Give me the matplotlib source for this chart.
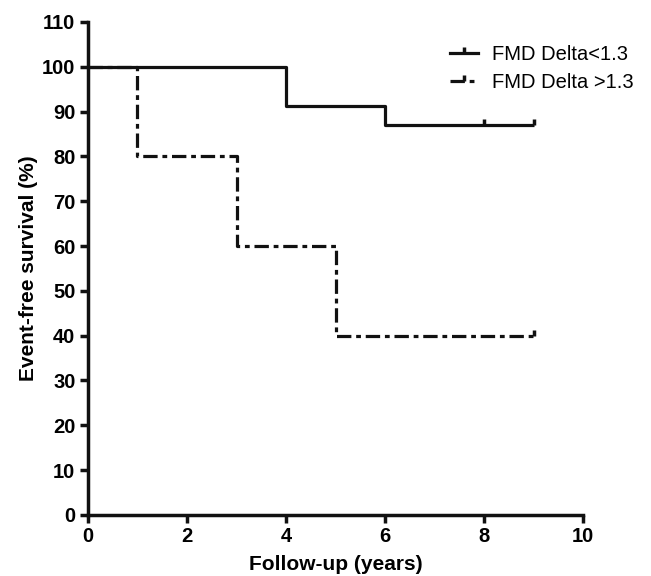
import matplotlib
matplotlib.use("Agg")
import matplotlib.pyplot as plt
from matplotlib.path import Path

plt.rcParams['font.family'] = ['Liberation Sans', 'DejaVu Sans']

# Kaplan-Meier step data
low_times = [0, 4, 6, 9]
low_surv = [100, 91.3, 87, 87]
low_censor_t = [8, 9]
low_censor_s = [87, 87]

high_times = [0, 1, 3, 5, 9]
high_surv = [100, 80, 60, 40, 40]
high_censor_t = [9]
high_censor_s = [40]

labels = ["FMD Delta<1.3", "FMD Delta >1.3"]
xticks = [0, 2, 4, 6, 8, 10]
yticks = list(range(0, 111, 10))

up_tick = Path([(0, 0), (0, 1)], [Path.MOVETO, Path.LINETO])

fig = plt.figure(figsize=(6.51, 5.76), dpi=100)
ax = fig.add_axes([0.135, 0.106, 0.761, 0.856])

dash = (0, (4.5, 1.5, 1.5, 1.5))
lw = 2.3
ink = '#111111'

ax.step(low_times, low_surv, where='post', color=ink, lw=lw, solid_capstyle='butt')
ax.plot(low_censor_t, low_censor_s, ls='none', marker=up_tick, markersize=9,
        markeredgewidth=2.5, color=ink)
ax.step(high_times, high_surv, where='post', color=ink, lw=lw, ls=dash)
ax.plot(high_censor_t, high_censor_s, ls='none', marker=up_tick, markersize=9,
        markeredgewidth=2.5, color=ink)

# legend handles
h1, = ax.plot([], [], color=ink, lw=lw, marker=up_tick, markersize=9, markeredgewidth=2.5)
h2, = ax.plot([], [], color=ink, lw=lw, ls=dash, marker=up_tick, markersize=9, markeredgewidth=2.5)
fig.legend([h1, h2], labels, loc='upper left', bbox_to_anchor=(450 / 651, 1 - 45 / 576),
           frameon=False, fontsize=14.5, handlelength=1.4, handletextpad=0.7,
           labelspacing=0.45, borderpad=0, borderaxespad=0, numpoints=1)

ax.set_xlim(0, 10)
ax.set_ylim(0, 110)
ax.set_xticks(xticks)
ax.set_yticks(yticks)
for s in ['top', 'right']:
    ax.spines[s].set_visible(False)
for s in ['left', 'bottom']:
    ax.spines[s].set_linewidth(2.5)
    ax.spines[s].set_color(ink)
ax.tick_params(axis='both', direction='out', length=6, width=2.5, color=ink,
               labelsize=14.5, pad=3)
for lab in ax.get_xticklabels() + ax.get_yticklabels():
    lab.set_fontweight('bold')

ax.set_xlabel("Follow-up (years)", fontsize=15, fontweight='bold', labelpad=6)
ax.set_ylabel("Event-free survival (%)", fontsize=15, fontweight='bold', labelpad=3)

fig.savefig("out.png", dpi=100)
